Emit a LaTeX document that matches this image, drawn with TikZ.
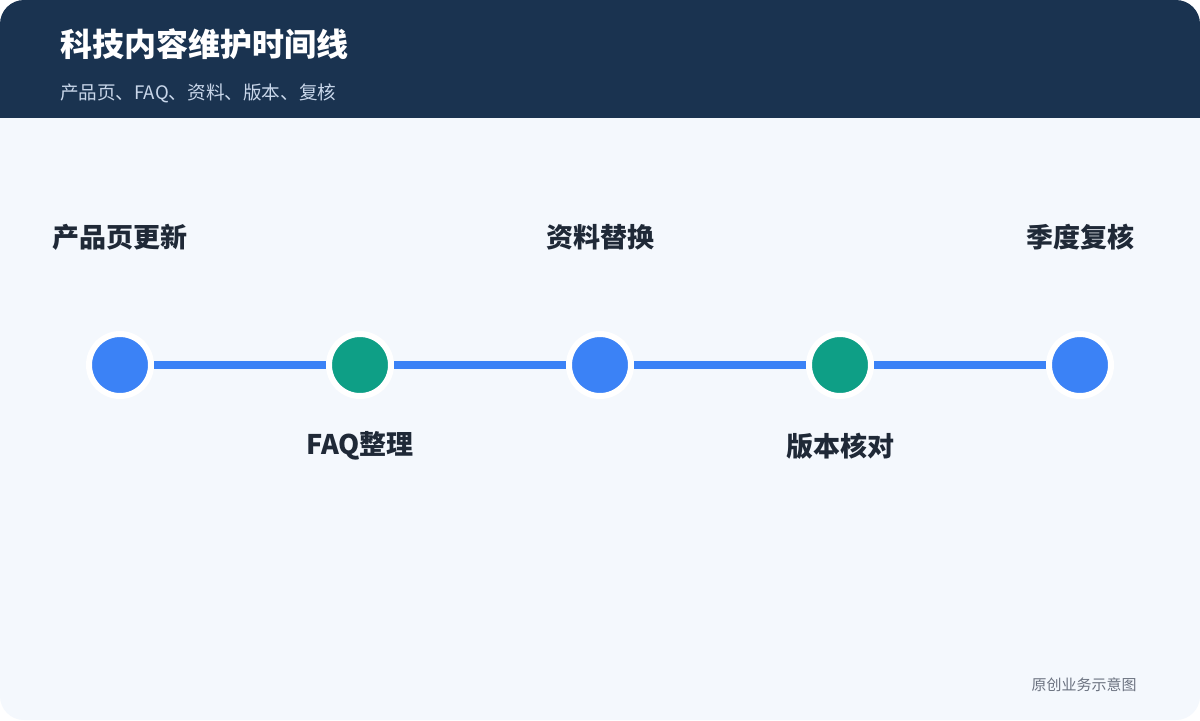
\documentclass[tikz,border=0pt]{standalone}
\usepackage{fontspec}
\setmainfont{Noto Sans CJK SC}
\definecolor{navy}{HTML}{1A3350}
\definecolor{bgc}{HTML}{F4F8FD}
\definecolor{blu}{HTML}{3B82F6}
\definecolor{grn}{HTML}{0E9F86}
\definecolor{txt}{HTML}{1F2937}
\definecolor{sub}{HTML}{C9D7EA}
\definecolor{foot}{HTML}{6B7280}
\begin{document}
\begin{tikzpicture}[x=0.5pt,y=-0.5pt,
  dot/.style={circle,draw=white,line width=3pt,minimum size=31pt,inner sep=0pt},
  lab/.style={font=\fontsize{13.5}{15}\selectfont\bfseries,text=txt}]
\useasboundingbox (0,0) rectangle (1200,720);
\fill[white] (0,0) rectangle (1200,720);
\fill[bgc,rounded corners=12pt] (0,0) rectangle (1200,720);
\fill[navy,rounded corners=12pt] (0,0) rectangle (1200,140);
\fill[bgc] (0,118) rectangle (1200,150);
\node[anchor=west,text=white,font=\fontsize{16}{18}\selectfont\bfseries] (t) at (53,44) {科技内容维护时间线};
\node[anchor=west,text=sub,font=\fontsize{9.3}{11}\selectfont] (s) at (53,93) {产品页、FAQ、资料、版本、复核};
\foreach \i/\x/\c in {1/120/blu,2/360/grn,3/600/blu,4/840/grn,5/1080/blu}
  \node[dot,fill=\c] (n\i) at (\x,365) {};
\foreach \a/\b in {1/2,2/3,3/4,4/5}
  \draw[blu,line width=4pt] (n\a) -- (n\b);
\node[lab] (l1) at (120,237) {产品页更新};
\node[lab] (l2) at (360,446) {FAQ整理};
\node[lab] (l3) at (600,237) {资料替换};
\node[lab] (l4) at (840,446) {版本核对};
\node[lab] (l5) at (1080,237) {季度复核};
\node[text=foot,font=\fontsize{7.5}{9}\selectfont] (f) at (1084,685) {原创业务示意图};
\end{tikzpicture}
\end{document}
